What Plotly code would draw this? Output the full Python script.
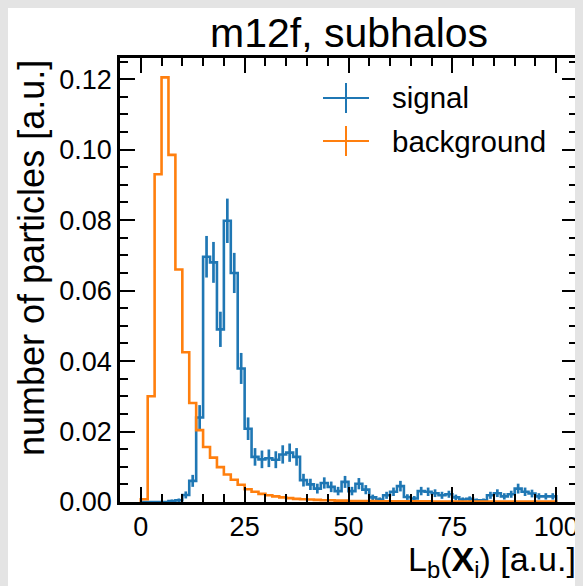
import numpy as np
import plotly.graph_objects as go

# ---------------- data ----------------
BIN_LO, BIN_HI, N_BINS = 0.0, 100.0, 60

signal_values = [
    0.0, 0.0, 0.0, 0.0, 0.0003, 0.0005, 0.0020, 0.0060, 0.0240, 0.0696,
    0.0680, 0.0490, 0.0798, 0.0650, 0.0379, 0.0208, 0.0128, 0.0121, 0.0124, 0.0120,
    0.0135, 0.0140, 0.0128, 0.0062, 0.0050, 0.0038, 0.0054, 0.0043, 0.0031, 0.0057,
    0.0031, 0.0052, 0.0035, 0.0013, 0.0007, 0.0019, 0.0029, 0.0045, 0.0014, 0.0010,
    0.0031, 0.0029, 0.0025, 0.0019, 0.0022, 0.0013, 0.0007, 0.0009, 0.0005, 0.0005,
    0.0019, 0.0025, 0.0016, 0.0022, 0.0038, 0.0029, 0.0024, 0.0016, 0.0016, 0.0016,
]
signal_errors = [
    0.0, 0.0, 0.0, 0.0, 0.0004, 0.0005, 0.0010, 0.0017, 0.0035, 0.0059,
    0.0058, 0.0050, 0.0063, 0.0057, 0.0044, 0.0032, 0.0025, 0.0025, 0.0025, 0.0024,
    0.0026, 0.0026, 0.0025, 0.0018, 0.0016, 0.0014, 0.0016, 0.0015, 0.0012, 0.0017,
    0.0012, 0.0016, 0.0013, 0.0008, 0.0006, 0.0010, 0.0012, 0.0015, 0.0008, 0.0007,
    0.0012, 0.0012, 0.0011, 0.0010, 0.0010, 0.0008, 0.0006, 0.0007, 0.0005, 0.0005,
    0.0010, 0.0011, 0.0009, 0.0010, 0.0014, 0.0012, 0.0011, 0.0009, 0.0009, 0.0009,
]
background_values = [
    0.0008, 0.0300, 0.0930, 0.1205, 0.0985, 0.0660, 0.0425, 0.0281, 0.0204, 0.0156,
    0.0126, 0.0099, 0.0078, 0.0063, 0.0049, 0.0036, 0.0029, 0.0023, 0.0019, 0.0016,
    0.0013, 0.0011, 0.0009, 0.0008, 0.0007, 0.0006, 0.0005, 0.0005, 0.0004, 0.0004,
    0.0003, 0.0003, 0.0003, 0.0003, 0.0002, 0.0002, 0.0002, 0.0002, 0.0002, 0.0002,
    0.0002, 0.0002, 0.0001, 0.0001, 0.0001, 0.0001, 0.0001, 0.0001, 0.0001, 0.0001,
    0.0001, 0.0001, 0.0001, 0.0001, 0.0001, 0.0001, 0.0001, 0.0001, 0.0001, 0.0001,
]
series_names = ["signal", "background"]
x_ticks = [0, 25, 50, 75, 100]
y_ticks = [0.00, 0.02, 0.04, 0.06, 0.08, 0.10, 0.12]
title_text = "m12f, subhalos"
x_title = "L<sub>b</sub>(<b>X</b><sub>i</sub>) [a.u.]"
y_title = "number of particles [a.u.]"

BLUE = "#1f77b4"
ORANGE = "#ff7f0e"
FONT = "Liberation Sans, Arial, Helvetica, sans-serif"

# ---------------- geometry ----------------
OFF = 8                      # page body margin
W, H = 575, 578
ML, MR, MT, MB = 112, 6, 50, 84
PW, PH = W - ML - MR, H - MT - MB


def px(x_page):
    return (x_page - OFF - ML) / PW


def py(y_page):
    return (H - MB - (y_page - OFF)) / PH


edges = np.linspace(BIN_LO, BIN_HI, N_BINS + 1)
centers = 0.5 * (edges[:-1] + edges[1:])


def step_xy(vals):
    xs = [edges[0]] + list(edges[:-1]) + [edges[-1]]
    ys = [0.0] + list(vals) + [0.0]
    return xs, ys


fig = go.Figure()

sx, sy = step_xy(signal_values)
fig.add_trace(go.Scatter(x=sx, y=sy, mode="lines", line=dict(color=BLUE, width=2.6, shape="hv"),
                         showlegend=False, hoverinfo="skip"))
fig.add_trace(go.Scatter(x=centers, y=signal_values, mode="markers",
                         marker=dict(size=1, color=BLUE),
                         error_y=dict(type="data", array=signal_errors, visible=True,
                                      color=BLUE, thickness=2.7, width=0),
                         showlegend=False, hoverinfo="skip"))
bx, by = step_xy(background_values)
fig.add_trace(go.Scatter(x=bx, y=by, mode="lines", line=dict(color=ORANGE, width=2.6, shape="hv"),
                         showlegend=False, hoverinfo="skip"))

axis_common = dict(
    showline=True, linecolor="black", linewidth=2.5, mirror="ticks",
    ticks="inside", ticklen=15, tickwidth=1.5, tickcolor="black",
    showgrid=False, zeroline=False,
    tickfont=dict(family=FONT, size=27, color="black"),
)

fig.update_xaxes(range=[-5, 105], tickvals=x_ticks, ticktext=[str(v) for v in x_ticks],
                 minor=dict(ticks="inside", ticklen=8, tickwidth=1.5, dtick=5, tick0=0,
                            tickcolor="black", showgrid=False),
                 ticklabelstandoff=-1, **axis_common)
fig.update_yaxes(range=[0, 0.126], tickvals=y_ticks, ticktext=[f"{v:.2f}" for v in y_ticks],
                 minor=dict(ticks="inside", ticklen=8, tickwidth=1.5, dtick=0.005, tick0=0,
                            tickcolor="black", showgrid=False),
                 ticklabelstandoff=0, **axis_common)

shapes = []
annotations = [
    dict(text=title_text, xref="paper", yref="paper", x=0.5, y=1, xanchor="center", yanchor="bottom",
         yshift=0, showarrow=False, font=dict(family=FONT, size=41, color="black")),
    dict(text=x_title, xref="paper", yref="paper", x=1, y=0, xanchor="right", yanchor="top",
         xshift=1, yshift=-36, showarrow=False, font=dict(family=FONT, size=34, color="black")),
    dict(text=y_title, xref="paper", yref="paper", x=0, y=1, xanchor="center", yanchor="top",
         xshift=-89, yshift=0, textangle=-90, showarrow=False,
         font=dict(family=FONT, size=36, color="black")),
]

# legend (manual)
legend_items = [(series_names[0], BLUE, 98), (series_names[1], ORANGE, 141)]
for name, col, yc in legend_items:
    shapes.append(dict(type="line", xref="paper", yref="paper", x0=px(323), x1=px(369),
                       y0=py(yc), y1=py(yc), line=dict(color=col, width=2)))
    shapes.append(dict(type="line", xref="paper", yref="paper", x0=px(346), x1=px(346),
                       y0=py(yc - 15), y1=py(yc + 15), line=dict(color=col, width=2)))
    annotations.append(dict(text=name, xref="paper", yref="paper", x=px(390), y=py(yc),
                            xanchor="left", yanchor="middle", showarrow=False,
                            font=dict(family=FONT, size=29.5, color="black")))

fig.update_layout(
    width=W, height=H,
    margin=dict(l=ML, r=MR, t=MT, b=MB, autoexpand=False),
    paper_bgcolor="white", plot_bgcolor="white",
    shapes=shapes, annotations=annotations, showlegend=False,
)

page_style = (
    "document.body.style.background='#e4e4e4';"
    "var d=document.getElementById('{plot_id}');"
    "d.style.boxShadow='-3px 0px 4px rgba(0,0,0,0.35)';"
)
fig.write_html("out.html", post_script=page_style)
